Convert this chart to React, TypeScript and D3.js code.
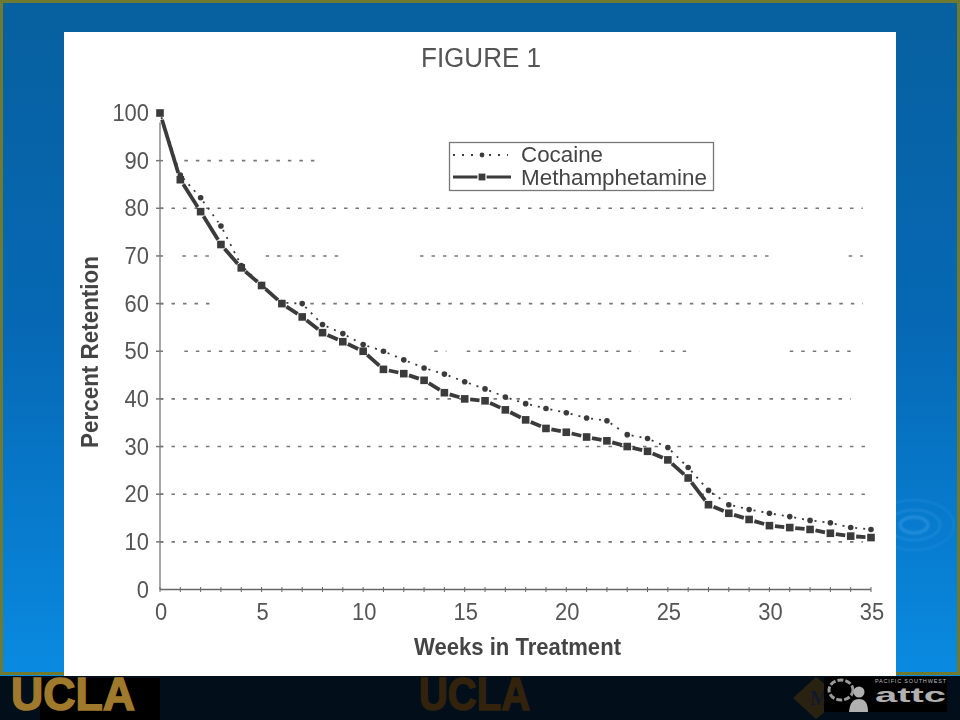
import React from "react";
import * as d3 from "d3";

const weeks = d3.range(0, 36);
const methamphetamine = [100, 86, 79.3, 72.4, 67.5, 63.8, 60, 57.2, 53.9, 52, 50, 46.2, 45.3, 43.9, 41.3, 40, 39.6, 37.7, 35.6, 33.8, 33, 32, 31.2, 30, 29, 27.2, 23.4, 17.8, 16, 14.7, 13.4, 13, 12.6, 11.8, 11.2, 10.9];
const cocaine = [100, 87, 82.2, 76.3, 68, 64, 60.2, 60, 55.6, 53.7, 51.4, 50, 48.2, 46.5, 45.2, 43.6, 42.1, 40.4, 39, 38, 37.1, 36, 35.4, 32.5, 31.7, 29.8, 25.6, 20.8, 17.8, 16.8, 16, 15.3, 14.5, 14, 13, 12.6];
const yTickValues = [0, 10, 20, 30, 40, 50, 60, 70, 80, 90, 100];
const xTickValues = [0, 5, 10, 15, 20, 25, 30, 35];
// the scanned gridlines are broken: [value, fromWeek, toWeek]
const gridRuns: [number, number, number][] = [
  [90, 1.2, 7.8],
  [80, 0, 34.6],
  [70, 1.1, 2.5], [70, 5.2, 8.9], [70, 12.8, 30], [70, 33.9, 34.6],
  [60, 0, 2.5], [60, 7.4, 34.6],
  [50, 1.2, 8.4], [50, 13.5, 14.1], [50, 15.1, 23.6], [50, 24.6, 25.9], [50, 31, 34],
  [40, 0, 34], [30, 0, 34.7], [20, 0, 34.7], [10, 0, 34.6],
];
const title = "FIGURE 1";
const xTitle = "Weeks in Treatment";
const yTitle = "Percent Retention";
const legendLabels = ["Cocaine", "Methamphetamine"];

const x = d3.scaleLinear().domain([0, 35]).range([160, 871]);
const y = d3.scaleLinear().domain([0, 100]).range([589.5, 113]);

const INK = "#3a3a3a";
const TEXT = "#555555";
const SANS = "'Liberation Sans', Arial, sans-serif";

function trimmed(i: number, series: number[], gap: number) {
  const x1 = x(weeks[i]), y1 = y(series[i]), x2 = x(weeks[i + 1]), y2 = y(series[i + 1]);
  const len = Math.hypot(x2 - x1, y2 - y1);
  const ux = (x2 - x1) / len, uy = (y2 - y1) / len;
  return { x1: x1 + ux * gap, y1: y1 + uy * gap, x2: x2 - ux * gap, y2: y2 - uy * gap };
}

export default function App() {
  return (
    <svg width={960} height={720} style={{ position: "absolute", left: 0, top: 0 }}>
      <defs>
        <linearGradient id="bg" x1="0" y1="0" x2="0" y2="1">
          <stop offset="0" stopColor="#07609f" />
          <stop offset="0.45" stopColor="#0668b4" />
          <stop offset="0.8" stopColor="#0880d4" />
          <stop offset="1" stopColor="#0a90e6" />
        </linearGradient>
        <filter id="soft" x="-5%" y="-5%" width="110%" height="110%">
          <feGaussianBlur stdDeviation="0.6" />
        </filter>
        <filter id="softer" x="-10%" y="-10%" width="120%" height="120%">
          <feGaussianBlur stdDeviation="0.9" />
        </filter>
      </defs>

      <rect width={960} height={720} fill="url(#bg)" />
      <rect x={1.5} y={1.5} width={957} height={672} fill="none" stroke="#6f7a30" strokeWidth={3} />
      <g fill="none" stroke="#3fa0ea" opacity={0.5} filter="url(#softer)">
        <ellipse cx={914} cy={525} rx={14} ry={8} strokeWidth={3} />
        <ellipse cx={914} cy={525} rx={26} ry={15} strokeWidth={1.5} />
        <ellipse cx={914} cy={525} rx={40} ry={25} strokeWidth={1} />
      </g>

      <rect x={64} y={32} width={832} height={644} fill="#ffffff" />
      <rect x={0} y={676} width={960} height={44} fill="#020f1b" />

      <g filter="url(#soft)">
        {gridRuns.map(([v, a, b], i) => (
          <line key={i} x1={x(a)} x2={x(b)} y1={y(v)} y2={y(v)} stroke="#777777" strokeWidth={1.6} strokeDasharray="3.5 8" />
        ))}

        <line x1={x(0)} x2={x(0)} y1={y(98)} y2={y(0)} stroke="#8a8a8a" strokeWidth={1.5} />
        <line x1={x(0)} x2={x(35)} y1={y(0)} y2={y(0)} stroke="#666666" strokeWidth={1.5} />
        {weeks.map((w) => (
          <line key={w} x1={x(w)} x2={x(w)} y1={y(0) - 2.5} y2={y(0) + 2.5} stroke="#666666" strokeWidth={1} />
        ))}
        {yTickValues.filter((v) => v > 0 && v < 100).map((v) => (
          <line key={v} x1={x(0) - 4} x2={x(0) + 3} y1={y(v)} y2={y(v)} stroke="#777777" strokeWidth={1.5} />
        ))}

        {cocaine.slice(0, -1).map((_, i) => {
          const s = trimmed(i, cocaine, 4.5);
          return <line key={i} {...s} stroke={INK} strokeWidth={1.8} strokeDasharray="2 6" />;
        })}
        {cocaine.map((v, i) => (
          <circle key={i} cx={x(weeks[i])} cy={y(v)} r={2.8} fill={INK} />
        ))}

        {methamphetamine.slice(0, -1).map((_, i) => {
          const s = trimmed(i, methamphetamine, i === 0 ? 7 : 5.5);
          return <line key={i} {...s} stroke={INK} strokeWidth={3.8} />;
        })}
        {methamphetamine.map((v, i) => (
          <rect key={i} x={x(weeks[i]) - 3.8} y={y(v) - 3.8} width={7.6} height={7.6} fill={INK} />
        ))}

        <rect x={449.5} y={142.5} width={264} height={48} fill="none" stroke="#777777" strokeWidth={1.3} />
        <line x1={453} x2={508} y1={155} y2={155} stroke={INK} strokeWidth={1.8} strokeDasharray="2 7" />
        <circle cx={482} cy={155} r={2.4} fill={INK} />
        <line x1={453} x2={511} y1={177} y2={177} stroke={INK} strokeWidth={3.2} />
        <rect x={478} y={173} width={8} height={8} fill={INK} stroke="#ffffff" strokeWidth={1.2} />
      </g>

      <g fill={TEXT} fontFamily={SANS} style={{ filter: "blur(0.35px)" }}>
        <text x={421} y={67} fontSize={27} textLength={120} lengthAdjust="spacingAndGlyphs">{title}</text>
        {yTickValues.map((v) => (
          <text key={v} x={149} y={y(v) + 8} fontSize={23} textAnchor="end" textLength={String(v).length * 12.2} lengthAdjust="spacingAndGlyphs">{v}</text>
        ))}
        {xTickValues.map((v) => (
          <text key={v} x={x(v) + 1} y={620} fontSize={23} textAnchor="middle" textLength={String(v).length * 12.2} lengthAdjust="spacingAndGlyphs">{v}</text>
        ))}
        <text x={414} y={655} fontSize={23} fontWeight={700} fill="#444444" textLength={207} lengthAdjust="spacingAndGlyphs">{xTitle}</text>
        <text transform="translate(98,448) rotate(-90)" fontSize={23} fontWeight={700} fill="#444444" textLength={192} lengthAdjust="spacingAndGlyphs">{yTitle}</text>
        <text x={521} y={162} fontSize={22.5} fill="#444444" textLength={82} lengthAdjust="spacingAndGlyphs">{legendLabels[0]}</text>
        <text x={521} y={185} fontSize={22.5} fill="#444444" textLength={186} lengthAdjust="spacingAndGlyphs">{legendLabels[1]}</text>
      </g>

      <rect x={40} y={678} width={120} height={42} fill="#000000" />
      <text x={11} y={710} fontFamily={SANS} fontWeight={700} fontSize={46} fill="#a07a2c" stroke="#a07a2c" strokeWidth={1.5} textLength={124} lengthAdjust="spacingAndGlyphs">UCLA</text>
      <text x={419} y={710} fontFamily={SANS} fontWeight={700} fontSize={46} fill="#33230c" stroke="#33230c" strokeWidth={1.5} textLength={111} lengthAdjust="spacingAndGlyphs">UCLA</text>

      <path d="M816 677 L842 698 L816 719 L793 698 Z" fill="#2a2210" />
      <text x={810} y={705} fontFamily="'Liberation Serif', serif" fontWeight={700} fontSize={20} fill="#101a2c">M</text>
      <rect x={824} y={677} width={123} height={35} fill="#000000" />
      <ellipse cx={841} cy={690} rx={12} ry={10} fill="none" stroke="#9a9a9a" strokeWidth={3} strokeDasharray="6 2" />
      <circle cx={859} cy={692} r={5.5} fill="#b0b0b0" />
      <path d="M849 712 Q850 699 859 699 Q868 699 868 712 Z" fill="#b0b0b0" />
      <text x={875} y={683} fontFamily={SANS} fontSize={5.5} fill="#bbbbbb" textLength={71} lengthAdjust="spacing">PACIFIC SOUTHWEST</text>
      <text x={875} y={702} fontFamily={SANS} fontWeight={700} fontSize={20} fill="#b0b0b0" textLength={71} lengthAdjust="spacingAndGlyphs">attc</text>
    </svg>
  );
}
